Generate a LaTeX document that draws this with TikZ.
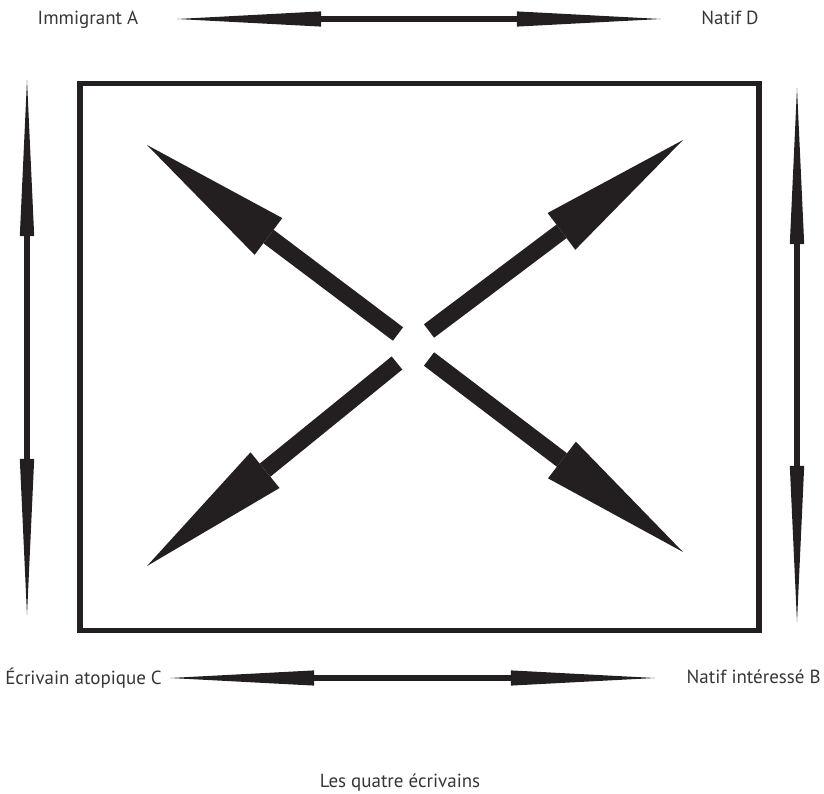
\documentclass[tikz,border=0pt]{standalone}
\usepackage{fontspec}
\setmainfont{PT Sans}
\usetikzlibrary{arrows.meta}
\definecolor{ink}{RGB}{35,31,32}
\tikzset{
  frame/.style={draw=ink, line width=3.6pt},
  lab/.style={font=\fontsize{13.5}{16}\selectfont, text=ink!90, inner sep=0pt},
  hflow/.style={draw=ink, line width=3.6pt,
                {Triangle[length=3.6cm,width=0.38cm,line width=0pt]}-{Triangle[length=3.6cm,width=0.38cm,line width=0pt]}},
  vflow/.style={draw=ink, line width=3.6pt,
                {Triangle[length=3.9cm,width=0.36cm,line width=0pt]}-{Triangle[length=3.9cm,width=0.36cm,line width=0pt]}},
  bigflow/.style={draw=ink, line width=12pt,
                  -{Triangle[length=3.8cm,width=1.15cm,line width=0pt]}},
}
\begin{document}
\begin{tikzpicture}[x=0.025cm,y=-0.025cm]
  \path[use as bounding box] (0,0) rectangle (824,794);

  % the four writers
  \node[lab] (immA) at (88,20) {Immigrant A};
  \node[lab] (natD) at (730,18) {Natif D};
  \node[lab, anchor=west] (ecrC) at (5,678) {Écrivain atopique C};
  \node[lab, anchor=east] (natB) at (821,677) {Natif intéressé B};
  \node[lab] (title) at (400,783) {Les quatre écrivains};

  \draw[frame] (80,83.5) rectangle (759,630.5);

  % outer links
  \coordinate (topL) at (177,19);  \coordinate (topR) at (661,19);
  \coordinate (botL) at (170,678); \coordinate (botR) at (655,678);
  \coordinate (lefT) at (27,80);   \coordinate (lefB) at (27,615);
  \coordinate (rigT) at (797,88);  \coordinate (rigB) at (797,622);
  \draw[hflow] (topL) -- (topR);
  \draw[hflow] (botL) -- (botR);
  \draw[vflow] (lefT) -- (lefB);
  \draw[vflow] (rigT) -- (rigB);

  % inner cross
  \coordinate (ulS) at (398,334); \coordinate (ulE) at (147,145);
  \coordinate (urS) at (429,331); \coordinate (urE) at (683,140);
  \coordinate (llS) at (397,363); \coordinate (llE) at (147,566);
  \coordinate (lrS) at (429,359); \coordinate (lrE) at (683,552);
  \draw[bigflow] (ulS) -- (ulE);
  \draw[bigflow] (urS) -- (urE);
  \draw[bigflow] (llS) -- (llE);
  \draw[bigflow] (lrS) -- (lrE);
\end{tikzpicture}
\end{document}
